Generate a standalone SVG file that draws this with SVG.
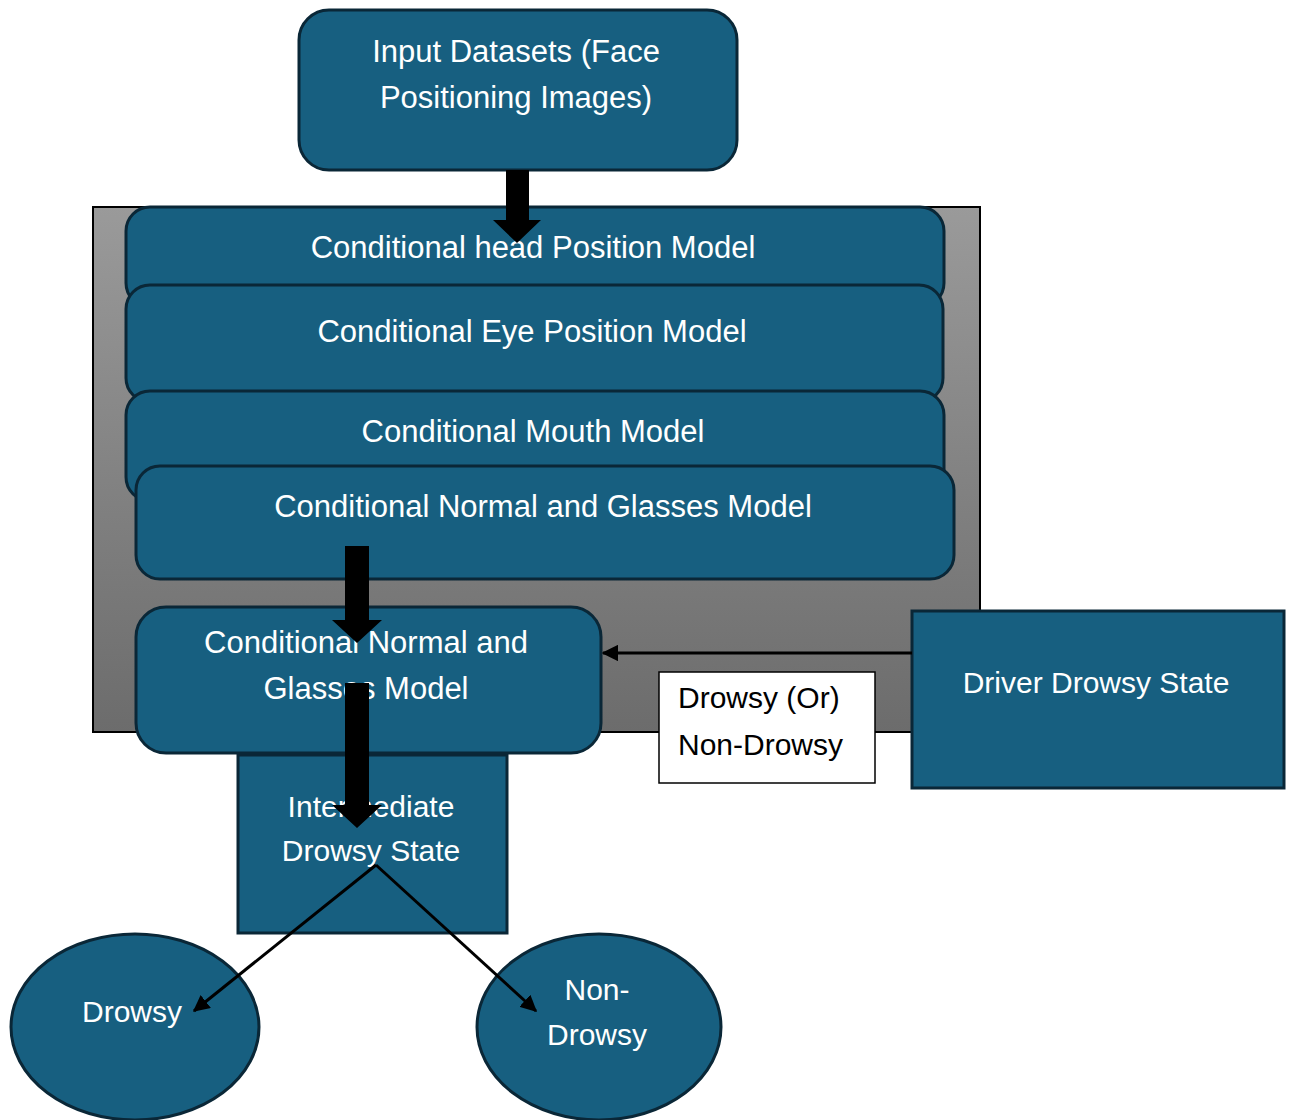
<svg xmlns="http://www.w3.org/2000/svg" width="1291" height="1120" viewBox="0 0 1291 1120">
  <style>
    .box { fill: #175f80; stroke: #0a2737; stroke-width: 3; }
    .lbl { font-family: "Liberation Sans", Arial, sans-serif; font-size: 30px; fill: #ffffff; text-anchor: middle; }
    .wide { font-size: 31px; }
    .dark { font-family: "Liberation Sans", Arial, sans-serif; font-size: 30px; fill: #000000; }
    .thick { fill: #000000; }
    .thin { stroke: #000000; stroke-width: 3; fill: none; }
  </style>
  <defs>
    <linearGradient id="greyFill" x1="0" y1="0" x2="0" y2="1">
      <stop offset="0" stop-color="#9a9a9a"/>
      <stop offset="1" stop-color="#6c6c6c"/>
    </linearGradient>
    <marker id="tip" viewBox="0 0 12 12" refX="11" refY="6" markerWidth="5.5" markerHeight="5.5" markerUnits="strokeWidth" orient="auto">
      <path d="M0,0 L12,6 L0,12 Z" fill="#000000"/>
    </marker>
  </defs>

  <!-- container panel -->
  <rect id="panel" x="93" y="207" width="887" height="525" fill="url(#greyFill)" stroke="#000000" stroke-width="2"/>

  <g id="input-datasets">
    <rect class="box" x="299" y="10" width="438" height="160" rx="30"/>
    <text class="lbl wide" x="516" y="62">Input Datasets (Face</text>
    <text class="lbl wide" x="516" y="108">Positioning Images)</text>
  </g>

  <g id="head-model">
    <rect class="box" x="126" y="207" width="818" height="100" rx="24"/>
    <text class="lbl wide" x="533" y="258">Conditional head Position Model</text>
  </g>

  <g id="eye-model">
    <rect class="box" x="126" y="285" width="817" height="117" rx="24"/>
    <text class="lbl wide" x="532" y="342">Conditional Eye Position Model</text>
  </g>

  <g id="mouth-model">
    <rect class="box" x="126" y="391" width="818" height="110" rx="24"/>
    <text class="lbl wide" x="533" y="442">Conditional Mouth Model</text>
  </g>

  <g id="normal-glasses-model">
    <rect class="box" x="136" y="466" width="818" height="113" rx="24"/>
    <text class="lbl wide" x="543" y="517">Conditional Normal and Glasses Model</text>
  </g>

  <g id="intermediate-state">
    <rect class="box" x="238" y="755" width="269" height="178"/>
    <text class="lbl" x="371" y="817">Intermediate</text>
    <text class="lbl" x="371" y="861">Drowsy State</text>
  </g>

  <g id="normal-glasses-model-2">
    <rect class="box" x="136" y="607" width="465" height="146" rx="30"/>
    <text class="lbl wide" x="366" y="653">Conditional Normal and</text>
    <text class="lbl wide" x="366" y="699">Glasses Model</text>
  </g>

  <g id="driver-state">
    <rect class="box" x="912" y="611" width="372" height="177"/>
    <text class="lbl" x="1096" y="693">Driver Drowsy State</text>
  </g>

  <g id="state-note">
    <rect x="659" y="672" width="216" height="111" fill="#ffffff" stroke="#000000" stroke-width="1.5"/>
    <text class="dark" x="678" y="708">Drowsy (Or)</text>
    <text class="dark" x="678" y="755">Non-Drowsy</text>
  </g>

  <g id="drowsy">
    <ellipse class="box" cx="135" cy="1027" rx="124" ry="93"/>
    <text class="lbl" x="132" y="1022">Drowsy</text>
  </g>

  <g id="non-drowsy">
    <ellipse class="box" cx="599" cy="1027" rx="122" ry="93"/>
    <text class="lbl" x="597" y="1000">Non-</text>
    <text class="lbl" x="597" y="1045">Drowsy</text>
  </g>

  <g id="connectors">
    <!-- block arrows -->
    <path class="thick" d="M506,170 H529 V220 H541 L517,243 L493,220 H506 Z"/>
    <path class="thick" d="M345,546 H369 V620 H382 L357,643 L332,620 H345 Z"/>
    <path class="thick" d="M345,683 H369 V805 H382 L357,828 L332,805 H345 Z"/>
    <!-- thin arrows -->
    <line class="thin" x1="912" y1="653" x2="603" y2="653" marker-end="url(#tip)"/>
    <line class="thin" x1="376" y1="865" x2="194" y2="1011" marker-end="url(#tip)"/>
    <line class="thin" x1="376" y1="865" x2="536" y2="1011" marker-end="url(#tip)"/>
  </g>
</svg>
